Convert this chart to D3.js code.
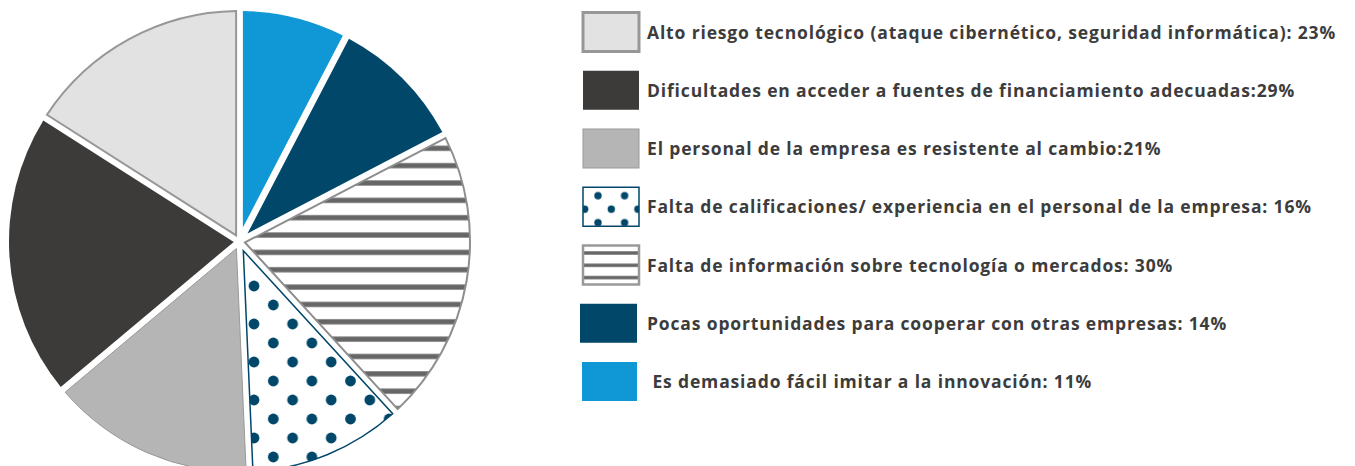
<!DOCTYPE html>
<html>
<head>
<meta charset="utf-8">
<script src="https://cdnjs.cloudflare.com/ajax/libs/d3/7.8.5/d3.min.js"></script>
<style>
  body { margin: 0; background: #fff; }
  svg { display: block; }
  .legend text { font-family: "Open Sans", sans-serif; font-weight: 700; font-size: 17.5px; letter-spacing: 0.85px; fill: #3c3c3c; }
</style>
</head>
<body>
<div id="chart"></div>
<script>
// legend order (pie runs counter-clockwise from 12 o'clock in this order)
let labels = [
  "Alto riesgo tecnológico (ataque cibernético, seguridad informática): 23%",
  "Dificultades en acceder a fuentes de financiamiento adecuadas:29%",
  "El personal de la empresa es resistente al cambio:21%",
  "Falta de calificaciones/ experiencia en el personal de la empresa: 16%",
  "Falta de información sobre tecnología o mercados: 30%",
  "Pocas oportunidades para cooperar con otras empresas: 14%",
  " Es demasiado fácil imitar a la innovación: 11%"
];
let values = [23, 29, 21, 16, 30, 14, 11];
let keys = ["alto", "dific", "personal", "calif", "info", "pocas", "imitar"];

let width = 1355, height = 466;
let cx = 239.5, cy = 241.5, R = 230.5, gap = 3.4;

let fills = {
  alto: "#e2e2e2", dific: "#3c3b39", personal: "#b5b5b5",
  calif: "url(#dots)", info: "url(#stripes)", pocas: "#00476a", imitar: "#0f98d5"
};
let strokes = {
  alto: ["#979797", 2], dific: ["none", 0], personal: ["#999", 1],
  calif: ["#00476a", 1.5], info: ["#8e8e8e", 2], pocas: ["none", 0], imitar: ["none", 0]
};

let svg = d3.select("#chart").append("svg")
  .attr("width", width).attr("height", height);

let defs = svg.append("defs");

// pie patterns (user space of the slices = centred on the pie)
let pDots = defs.append("pattern").attr("id", "dots")
  .attr("patternUnits", "userSpaceOnUse").attr("width", 38.6).attr("height", 38)
  .attr("patternTransform", `translate(${254 - cx},${286 - cy})`);
pDots.append("rect").attr("width", 38.6).attr("height", 38).attr("fill", "#fff");
[[0, 0], [38.6, 0], [0, 38], [38.6, 38], [19.3, 19]].forEach(function(p) {
  pDots.append("circle").attr("cx", p[0]).attr("cy", p[1]).attr("r", 5.4).attr("fill", "#00476a");
});

let pStripes = defs.append("pattern").attr("id", "stripes")
  .attr("patternUnits", "userSpaceOnUse").attr("width", 20).attr("height", 17.35)
  .attr("patternTransform", `translate(0,${148.3 - cy})`);
pStripes.append("rect").attr("width", 20).attr("height", 17.35).attr("fill", "#fff");
pStripes.append("rect").attr("y", -2.6).attr("width", 20).attr("height", 5.2).attr("fill", "#666");
pStripes.append("rect").attr("y", 17.35 - 2.6).attr("width", 20).attr("height", 5.2).attr("fill", "#666");

// legend patterns
let lDots = defs.append("pattern").attr("id", "ldots")
  .attr("patternUnits", "userSpaceOnUse").attr("width", 26.6).attr("height", 27)
  .attr("patternTransform", "translate(598,195.7)");
lDots.append("rect").attr("width", 26.6).attr("height", 27).attr("fill", "#fff");
[[0, 0], [26.6, 0], [0, 27], [26.6, 27], [13.3, 13.5]].forEach(function(p) {
  lDots.append("circle").attr("cx", p[0]).attr("cy", p[1]).attr("r", 3.7).attr("fill", "#00476a");
});

let lStripes = defs.append("pattern").attr("id", "lstripes")
  .attr("patternUnits", "userSpaceOnUse").attr("width", 20).attr("height", 12.3)
  .attr("patternTransform", "translate(0,253)");
lStripes.append("rect").attr("width", 20).attr("height", 12.3).attr("fill", "#fff");
lStripes.append("rect").attr("y", -1.7).attr("width", 20).attr("height", 3.4).attr("fill", "#666");
lStripes.append("rect").attr("y", 12.3 - 1.7).attr("width", 20).attr("height", 3.4).attr("fill", "#666");

// pie
let pie = d3.pie().sort(null).startAngle(0).endAngle(-2 * Math.PI)
  .value(function(d, i) { return values[i]; });
let arcs = pie(keys);

// sector shrunk by `gap` on every side, so slices are separated by white bands
function insetSector(d) {
  let a0 = Math.min(d.startAngle, d.endAngle), a1 = Math.max(d.startAngle, d.endAngle);
  let h = (a1 - a0) / 2, m = (a0 + a1) / 2;
  let ad = gap / Math.sin(h);
  let dl = Math.asin(gap / R);
  let p = d3.path();
  p.moveTo(Math.sin(m) * ad, -Math.cos(m) * ad);
  p.lineTo(Math.sin(a0 + dl) * R, -Math.cos(a0 + dl) * R);
  p.arc(0, 0, R, a0 + dl - Math.PI / 2, a1 - dl - Math.PI / 2, false);
  p.closePath();
  return p.toString();
}

let g = svg.append("g").attr("transform", `translate(${cx},${cy})`);
g.selectAll("path").data(arcs).enter().append("path")
  .attr("d", insetSector)
  .attr("fill", function(d) { return fills[d.data]; })
  .attr("stroke", function(d) { return strokes[d.data][0]; })
  .attr("stroke-width", function(d) { return strokes[d.data][1]; })
  .attr("stroke-linejoin", "miter");

// legend
let rowY = d3.scalePoint().domain(keys).range([32, 381.5]);
let legend = svg.append("g").attr("class", "legend");
let swX = { pocas: 580, imitar: 582 };
let swW = { pocas: 57, imitar: 55 };
let lfills = Object.assign({}, fills, { calif: "url(#ldots)", info: "url(#lstripes)" });
let lstrokes = Object.assign({}, strokes, { alto: ["#979797", 3], info: ["#999", 2.5] });

let rows = legend.selectAll("g").data(keys).enter().append("g");
rows.append("rect")
  .attr("x", function(k) { return swX[k] || 583; })
  .attr("y", function(k) { return rowY(k) - 19.5; })
  .attr("width", function(k) { return swW[k] || 56; })
  .attr("height", 39)
  .attr("fill", function(k) { return lfills[k]; })
  .attr("stroke", function(k) { return lstrokes[k][0]; })
  .attr("stroke-width", function(k) { return lstrokes[k][1]; });
rows.append("text")
  .attr("x", 647)
  .attr("y", function(k) { return rowY(k) + 6.5; })
  .attr("xml:space", "preserve")
  .text(function(k, i) { return labels[i]; });
</script>
</body>
</html>
